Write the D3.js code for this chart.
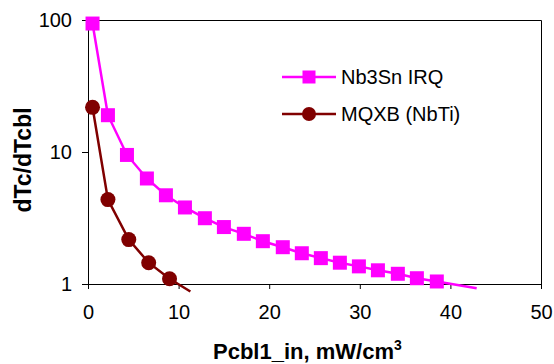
<!DOCTYPE html>
<html>
<head>
<meta charset="utf-8">
<script src="https://cdn.jsdelivr.net/npm/d3@7"></script>
<style>
  body { margin: 0; background: #fff; }
  svg { font-family: "Liberation Sans", Arial, sans-serif; }
</style>
</head>
<body>
<svg id="chart" width="554" height="364"></svg>
<script>
// values
let irqX = [0.5, 2.2, 4.3, 6.5, 8.6, 10.7, 12.9, 15.0, 17.2, 19.3, 21.5, 23.6, 25.7, 27.8, 29.9, 32.0, 34.2, 36.3, 38.5, 42.9]
let irqY = [94, 19.0, 9.5, 6.3, 4.7, 3.8, 3.15, 2.7, 2.4, 2.11, 1.9, 1.71, 1.57, 1.45, 1.36, 1.27, 1.195, 1.106, 1.045, 0.93]
let mqxbX = [0.5, 2.2, 4.5, 6.7, 9.0, 11.3]
let mqxbY = [21.8, 4.36, 2.17, 1.45, 1.095, 0.877]
let xTicks = [0, 10, 20, 30, 40, 50]
let yTicks = [1, 10, 100]
let seriesNames = ["Nb3Sn IRQ", "MQXB (NbTi)"]
let colors = ["#ff00ff", "#800000"]

let margin = { left: 88, right: 13, top: 20, bottom: 80 }
let width = 554 - margin.left - margin.right
let height = 364 - margin.top - margin.bottom

let svg = d3.select('#chart')
let g = svg.append('g')
    .attr("transform", "translate(" + margin.left + "," + margin.top + ")")

let x = d3.scaleLinear().domain([0, 50]).range([0, width])
let y = d3.scaleLog().domain([1, 100]).range([height, 0])

// plot frame (top and right)
g.append("path")
    .attr("d", "M0,0.5H" + (width + 0.5) + "V" + height)
    .attr("fill", "none")
    .attr("stroke", "#000")
    .attr("stroke-width", 1)

let xAxis = g.append("g")
    .attr("transform", "translate(0," + height + ")")
    .call(d3.axisBottom(x).tickValues(xTicks).tickSize(5).tickPadding(16).tickFormat(d3.format("d")))
let yAxis = g.append("g")
    .call(d3.axisLeft(y).tickValues(yTicks).tickSize(6).tickPadding(10).tickFormat(d3.format("d")))

for (let ax of [xAxis, yAxis]) {
    ax.select(".domain").attr("stroke", "#000")
    ax.selectAll(".tick line").attr("stroke", "#000")
    ax.selectAll(".tick text").style("font-size", "20px").attr("fill", "#000")
}

let line = d3.line().x(d => x(d[0])).y(d => y(d[1]))

let irq = irqX.map((v, i) => [v, irqY[i]])
let mqxb = mqxbX.map((v, i) => [v, mqxbY[i]])

g.append("path").datum(irq)
    .attr("d", line)
    .attr("fill", "none")
    .attr("stroke", colors[0])
    .attr("stroke-width", 2.5)
g.append("path").datum(mqxb)
    .attr("d", line)
    .attr("fill", "none")
    .attr("stroke", colors[1])
    .attr("stroke-width", 2.5)

let sq = 14
g.selectAll(".sq").data(irq.filter(d => d[1] >= 1)).enter()
    .append("rect")
    .attr("x", d => x(d[0]) - sq / 2)
    .attr("y", d => y(d[1]) - sq / 2)
    .attr("width", sq)
    .attr("height", sq)
    .attr("fill", colors[0])
g.selectAll(".dot").data(mqxb.filter(d => d[1] >= 1)).enter()
    .append("circle")
    .attr("cx", d => x(d[0]))
    .attr("cy", d => y(d[1]))
    .attr("r", 7.5)
    .attr("fill", colors[1])

// legend
for (let i = 0; i < seriesNames.length; i++) {
    let ly = 77 + i * 37
    svg.append("line")
        .attr("x1", 282).attr("x2", 336)
        .attr("y1", ly).attr("y2", ly)
        .attr("stroke", colors[i])
        .attr("stroke-width", 2.5)
    if (i == 0) {
        svg.append("rect")
            .attr("x", 309 - 6.5).attr("y", ly - 6.5)
            .attr("width", 13).attr("height", 13)
            .attr("fill", colors[i])
    } else {
        svg.append("circle")
            .attr("cx", 309).attr("cy", ly)
            .attr("r", 7)
            .attr("fill", colors[i])
    }
    svg.append("text")
        .attr("x", 341).attr("y", ly + 7)
        .text(seriesNames[i])
        .style("font-size", "20px")
}

// axis titles
let xt = svg.append("text")
    .attr("x", 213).attr("y", 359)
    .style("font-size", "22px")
    .style("font-weight", "bold")
xt.append("tspan").text("Pcbl1_in, mW/cm")
xt.append("tspan").text("3").attr("dy", -9).style("font-size", "14px")

svg.append("text")
    .attr("transform", "translate(31,160) rotate(-90)")
    .attr("text-anchor", "middle")
    .style("font-size", "23px")
    .style("font-weight", "bold")
    .text("dTc/dTcbl")
</script>
</body>
</html>
